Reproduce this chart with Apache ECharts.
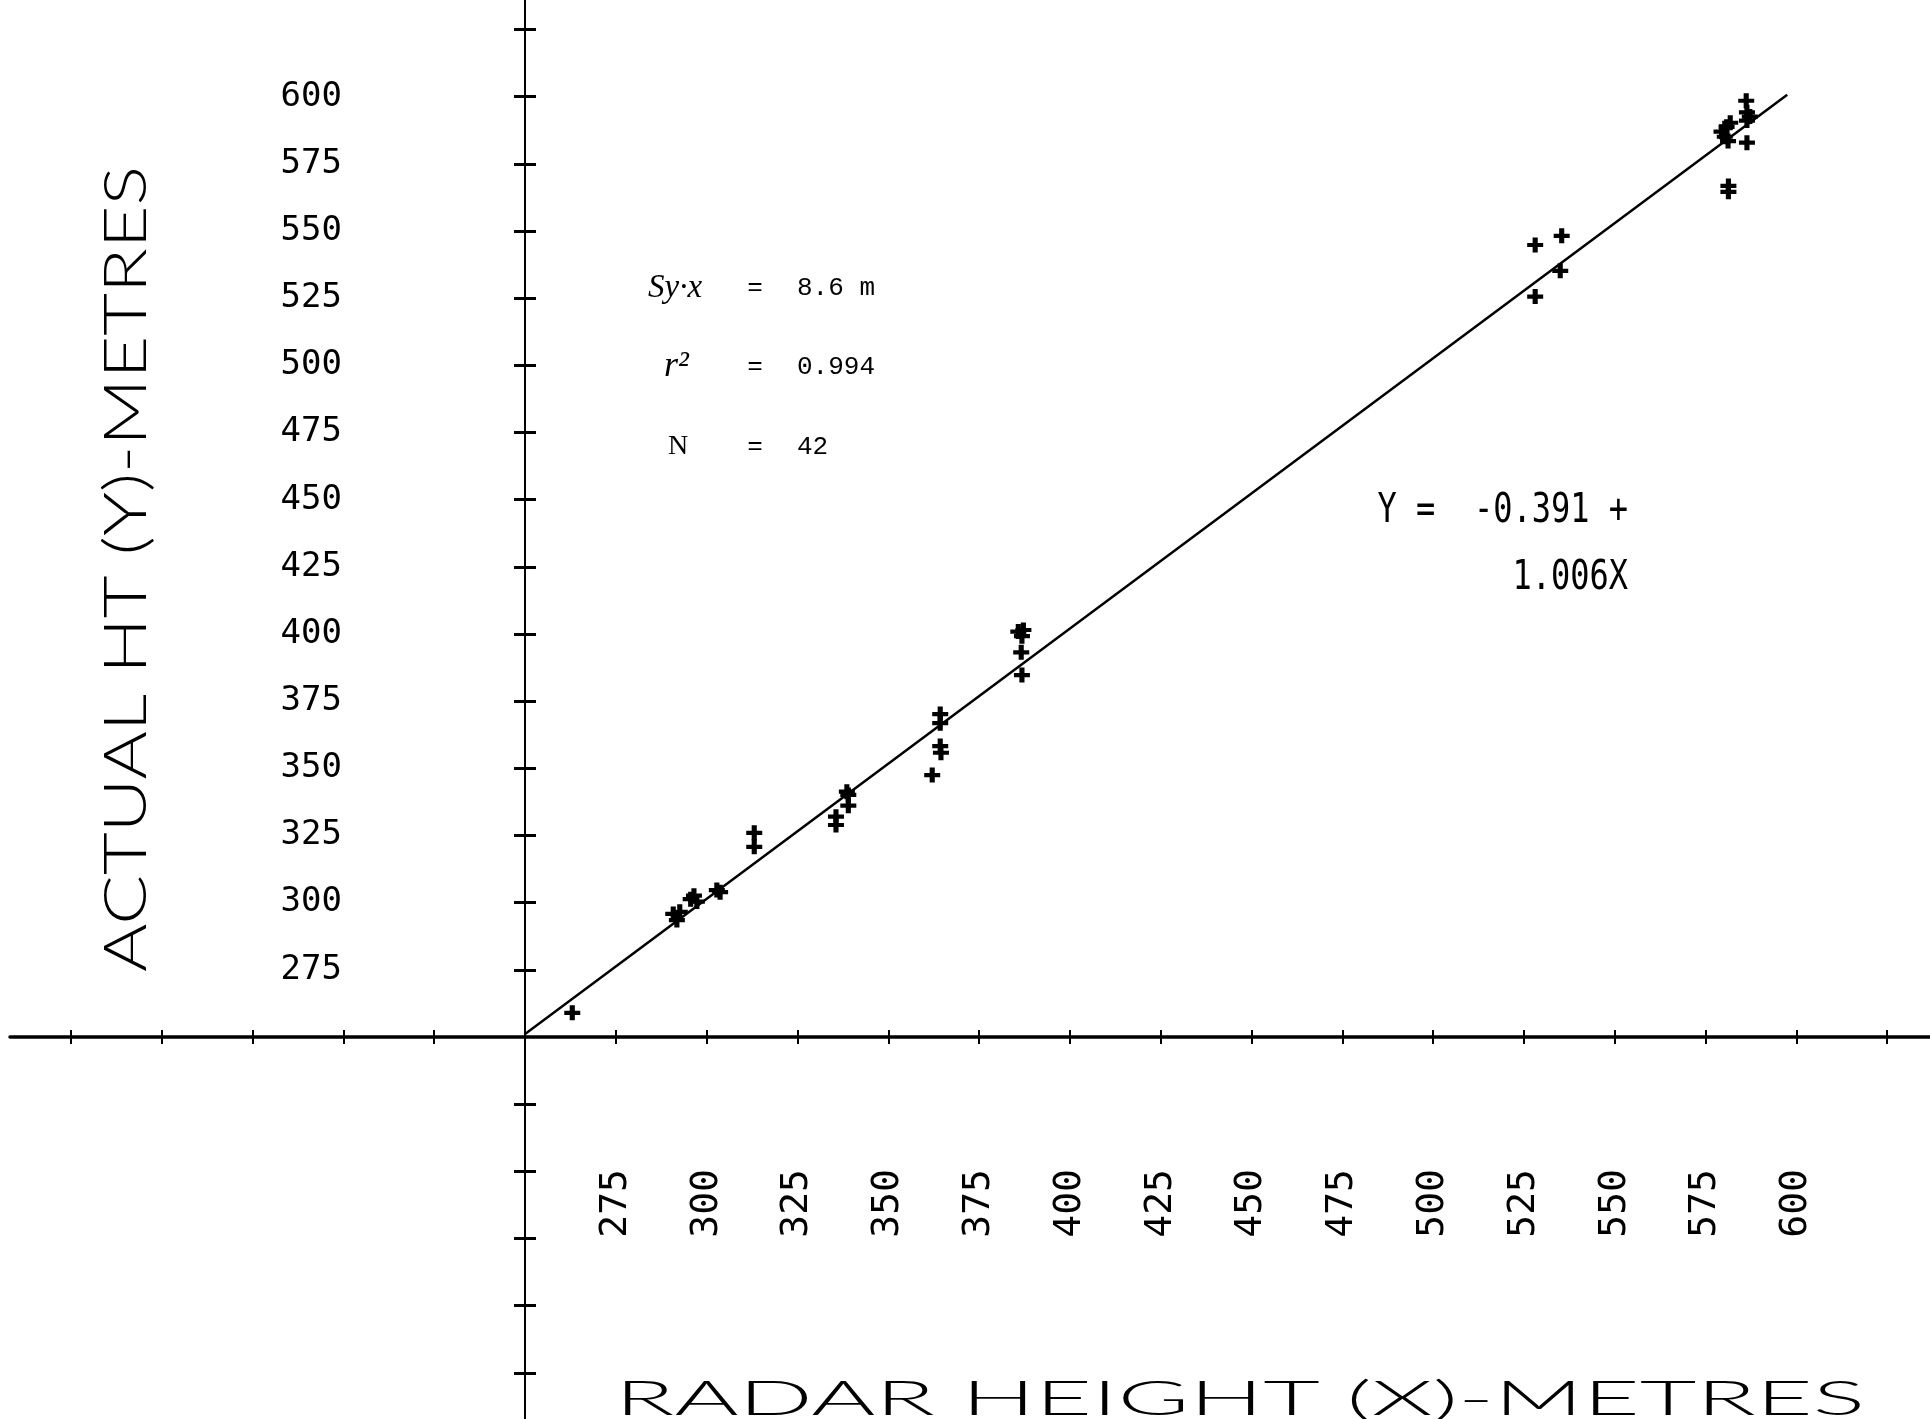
<!DOCTYPE html>
<html><head><meta charset="utf-8">
<script src="https://cdn.jsdelivr.net/npm/echarts@6/dist/echarts.min.js"></script>
<style>html,body{margin:0;padding:0;background:#fff}#c{width:1930px;height:1419px}</style>
</head><body><div id="c"></div>
<script>
// ---- data ----
const radarHeight = [263.0, 290.8, 291.8, 292.6, 295.6, 297.3, 296.5, 302.8, 303.7, 313.1,
  313.1, 335.6, 335.6, 338.6, 339.0, 339.0, 362.1, 364.3, 364.5, 364.3,
  364.3, 385.8, 387.2, 386.8, 386.6, 386.8, 528.1, 535.4, 535.0, 528.1,
  586.2, 586.4, 586.4, 587.2, 586.4, 581.8, 579.4, 580.3, 581.2, 580.8,
  581.3, 581.3];
const actualHeight = [259.0, 295.8, 293.5, 296.6, 301.3, 300.4, 302.6, 304.7, 303.9, 326.0,
  320.8, 332.0, 328.9, 341.3, 340.1, 336.1, 347.5, 358.3, 355.8, 370.2,
  366.8, 400.9, 401.5, 399.2, 393.2, 384.7, 544.8, 548.2, 535.2, 525.6,
  598.5, 594.2, 591.1, 592.6, 582.9, 590.3, 587.0, 585.1, 583.5, 588.8,
  566.8, 564.6];
const fitLineX = [250, 597.5];
const fitLineY = [251.1, 600.7];
const xTickValues = [125,150,175,200,225,275,300,325,350,375,400,425,450,475,500,525,550,575,600,625];
const xLabelValues = [275,300,325,350,375,400,425,450,475,500,525,550,575,600];
const yTickValues = [125,150,175,200,225,275,300,325,350,375,400,425,450,475,500,525,550,575,600,625];
const yLabelValues = [275,300,325,350,375,400,425,450,475,500,525,550,575,600];
const xTitle = 'RADAR HEIGHT (X)-METRES';
const yTitle = 'ACTUAL HT (Y)-METRES';
const statLabels = ['Sy\u00B7x', 'r\u00B2', 'N'];
const statValues = ['8.6 m', '0.994', '42'];
const eqLines = ['Y =  -0.391 +', '1.006X'];

// ---- layout ----
const X_MIN = 108.2, X_MAX = 636.8, Y_MIN = 107.8, Y_MAX = 636.0;
const points = radarHeight.map((x, i) => [x, actualHeight[i]]);
const fitLine = fitLineX.map((x, i) => [x, fitLineY[i]]);

function scaleFor(text, font, target) {
  const ctx = document.createElement('canvas').getContext('2d');
  ctx.font = font;
  return target / ctx.measureText(text).width;
}
const sxX = scaleFor(xTitle, '300 48px Lato', 1250);
const sxY = scaleFor(yTitle, '300 60px Lato', 806);

const tickFont = {fontFamily: 'DejaVu Sans Mono', color: '#000'};
const plus = 'path://M3.4,0H6.6V3.6H10V6.4H6.6V10H3.4V6.4H0V3.6H3.4Z';

const chart = echarts.init(document.getElementById('c'), null, {renderer: 'canvas'});
const statFont = {fontFamily: 'Liberation Mono', fontSize: 26, fill: '#000', verticalAlign: 'middle'};
const statRows = [288, 367, 447];
const labelStyles = [
  {fontFamily: 'Liberation Serif', fontStyle: 'italic', fontSize: 33},
  {fontFamily: 'Liberation Serif', fontStyle: 'italic', fontSize: 36},
  {fontFamily: 'Liberation Serif', fontSize: 28}
];
const labelX = [648, 664, 668];
const graphics = [];
statRows.forEach((yy, i) => {
  graphics.push({type: 'text', x: labelX[i], y: yy,
    style: Object.assign({fill: '#000', verticalAlign: 'middle', align: 'left', text: statLabels[i]}, labelStyles[i])});
  graphics.push({type: 'text', x: 755, y: yy, style: Object.assign({}, statFont, {text: '=', align: 'center'})});
  graphics.push({type: 'text', x: 797, y: yy, style: Object.assign({}, statFont, {text: statValues[i], align: 'left'})});
});
[512, 579].forEach((yy, i) => {
  graphics.push({type: 'text', x: 1628, y: yy, scaleY: 1.25,
    style: {text: eqLines[i], fontFamily: 'DejaVu Sans Mono', fontSize: 32, fill: '#000', align: 'right', verticalAlign: 'middle'}});
});
graphics.push({type: 'text', x: 1240, y: 1400, scaleX: sxX,
  style: {text: xTitle, fontFamily: 'Lato', fontWeight: 300, fontSize: 48, fill: '#000', align: 'center', verticalAlign: 'middle'}});
graphics.push({type: 'text', x: 127, y: 569, rotation: Math.PI / 2, scaleX: sxY,
  style: {text: yTitle, fontFamily: 'Lato', fontWeight: 300, fontSize: 60, fill: '#000', align: 'center', verticalAlign: 'middle'}});

const option = {
  animation: false,
  backgroundColor: '#fff',
  grid: {left: 10, right: 0, top: 0, bottom: 0, containLabel: false, outerBoundsMode: 'none'},
  xAxis: [
    {type: 'value', min: X_MIN, max: X_MAX, position: 'bottom', offset: -382,
     axisLine: {show: true, onZero: false, lineStyle: {color: '#000', width: 3.5}},
     axisTick: {show: true, customValues: xTickValues, length: 7, lineStyle: {color: '#000', width: 2}},
     axisLabel: Object.assign({show: true, customValues: xLabelValues, rotate: 90, margin: 132, fontSize: 38, padding: [0, 0, 24, 0]}, tickFont),
     splitLine: {show: false}},
    {type: 'value', min: X_MIN, max: X_MAX, position: 'bottom', offset: -382,
     axisLine: {show: false},
     axisTick: {show: true, inside: true, customValues: xTickValues, length: 7, lineStyle: {color: '#000', width: 2}},
     axisLabel: {show: false}, splitLine: {show: false}}
  ],
  yAxis: [
    {type: 'value', min: Y_MIN, max: Y_MAX, position: 'left', offset: -515,
     axisLine: {show: true, onZero: false, lineStyle: {color: '#000', width: 2}},
     axisTick: {show: true, customValues: yTickValues, length: 11, lineStyle: {color: '#000', width: 3}},
     axisLabel: Object.assign({show: true, customValues: yLabelValues, margin: 183, fontSize: 34, padding: [0, 0, 14, 0]}, tickFont),
     splitLine: {show: false}},
    {type: 'value', min: Y_MIN, max: Y_MAX, position: 'left', offset: -515,
     axisLine: {show: false},
     axisTick: {show: true, inside: true, customValues: yTickValues, length: 11, lineStyle: {color: '#000', width: 3}},
     axisLabel: {show: false}, splitLine: {show: false}}
  ],
  series: [
    {type: 'line', xAxisIndex: 0, yAxisIndex: 0, data: fitLine, symbol: 'none',
     lineStyle: {color: '#000', width: 2.5}, z: 2},
    {type: 'scatter', xAxisIndex: 0, yAxisIndex: 0, data: points, symbol: plus, symbolSize: [16, 15],
     itemStyle: {color: '#000', opacity: 1}, z: 3}
  ],
  graphic: graphics
};
chart.setOption(option);
</script></body></html>
